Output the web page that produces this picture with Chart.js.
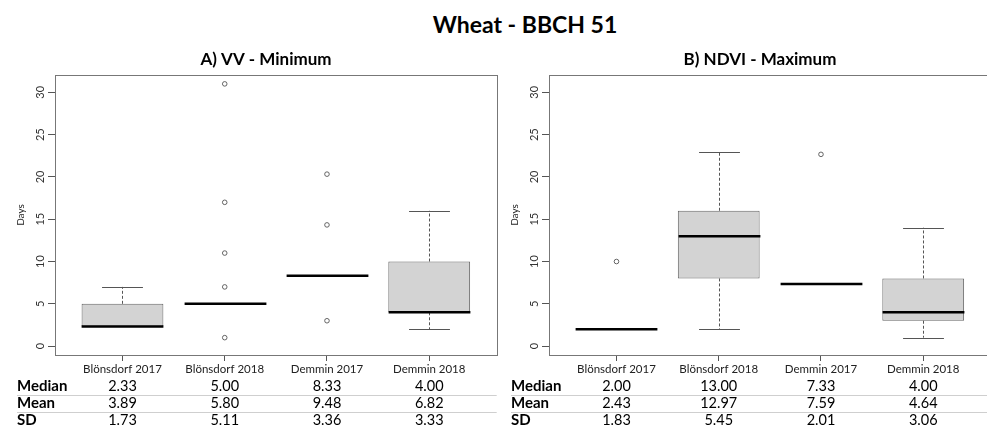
<!DOCTYPE html>
<html>
<head>
<meta charset="utf-8">
<script src="https://cdn.jsdelivr.net/npm/chart.js@4.4.0/dist/chart.umd.min.js"></script>
<style>
  html, body { margin: 0; padding: 0; background: #fff; }
  body { width: 987px; height: 426px; overflow: hidden; position: relative; }
  #mainTitle { position: absolute; left: 0; width: 1050px; top: 10px; text-align: center;
               font: bold 23px Lato, sans-serif; color: #000; }
  .panel { position: absolute; top: 0; width: 510px; height: 426px; }
</style>
</head>
<body>
<div id="mainTitle">Wheat - BBCH 51</div>
<div class="panel" style="left:0"><canvas id="vvChart" width="510" height="426"></canvas></div>
<div class="panel" style="left:494px"><canvas id="ndviChart" width="510" height="426"></canvas></div>
<script>
// ---- data ----
const categories = ['Blönsdorf 2017', 'Blönsdorf 2018', 'Demmin 2017', 'Demmin 2018'];
const yTicks = [0, 5, 10, 15, 20, 25, 30];
const statLabels = ['Median', 'Mean', 'SD'];

// A) VV - Minimum
const vvLow    = [2.33, 5, 8.33, 2];
const vvQ1     = [2.33, 5, 8.33, 4];
const vvMed    = [2.33, 5, 8.33, 4];
const vvQ3     = [5, 5, 8.33, 10];
const vvHigh   = [7, 5, 8.33, 16];
const vvOutliers = [[], [1, 7, 11, 17, 31], [3, 14.33, 20.33], []];
const vvStatMedian = [2.33, 5.00, 8.33, 4.00];
const vvStatMean   = [3.89, 5.80, 9.48, 6.82];
const vvStatSD     = [1.73, 5.11, 3.36, 3.33];

// B) NDVI - Maximum
const ndviLow  = [2, 2, 7.33, 1];
const ndviQ1   = [2, 8, 7.33, 3];
const ndviMed  = [2, 13, 7.33, 4];
const ndviQ3   = [2, 16, 7.33, 8];
const ndviHigh = [2, 23, 7.33, 14];
const ndviOutliers = [[10], [], [22.67], []];
const ndviStatMedian = [2.00, 13.00, 7.33, 4.00];
const ndviStatMean   = [2.43, 12.97, 7.59, 4.64];
const ndviStatSD     = [1.83, 5.45, 2.01, 3.06];

const FONT = 'Lato, sans-serif';

function makePanel(canvasId, subtitle, low, q1, med, q3, high, outliers, stats) {
    const boxes = categories.map((c, i) => ({ x: i + 1, y: [q1[i], q3[i]] }));
    const points = [];
    outliers.forEach((vals, i) => vals.forEach(v => points.push({ x: i + 1, y: v })));

    const boxplotExtras = {
        id: 'boxplotExtras',
        afterDatasetsDraw(chart) {
            const ctx = chart.ctx;
            const xs = chart.scales.x, ys = chart.scales.y;
            const bars = chart.getDatasetMeta(0).data;
            ctx.save();
            categories.forEach((c, i) => {
                const x = Math.round(xs.getPixelForValue(i + 1)) + 0.5;
                const half = bars[i].width / 2;
                ctx.strokeStyle = '#555';
                ctx.lineWidth = 1;
                [[q3[i], high[i]], [q1[i], low[i]]].forEach(([from, to]) => {
                    if (from === to) return;
                    ctx.setLineDash([3, 2]);
                    ctx.beginPath();
                    ctx.moveTo(x, ys.getPixelForValue(from));
                    ctx.lineTo(x, ys.getPixelForValue(to));
                    ctx.stroke();
                    ctx.setLineDash([]);
                    const yy = Math.round(ys.getPixelForValue(to)) + 0.5;
                    ctx.beginPath();
                    ctx.moveTo(x - half / 2, yy);
                    ctx.lineTo(x + half / 2, yy);
                    ctx.stroke();
                });
                // median
                ctx.strokeStyle = '#000';
                ctx.lineWidth = 2.5;
                const ym = ys.getPixelForValue(med[i]);
                ctx.beginPath();
                ctx.moveTo(x - half, ym);
                ctx.lineTo(x + half, ym);
                ctx.stroke();
            });
            ctx.restore();
        },
        afterDraw(chart) {
            const ctx = chart.ctx;
            const area = chart.chartArea;
            const xs = chart.scales.x, ys = chart.scales.y;
            ctx.save();
            // plot frame
            ctx.strokeStyle = '#777';
            ctx.lineWidth = 1;
            ctx.strokeRect(Math.round(area.left) + 0.5, Math.round(area.top) + 0.5,
                           Math.round(area.right - area.left), Math.round(area.bottom - area.top));
            // y tick labels, rotated like R
            ctx.fillStyle = '#333';
            ctx.font = '11px ' + FONT;
            ctx.textAlign = 'center';
            ctx.textBaseline = 'middle';
            yTicks.forEach(v => {
                ctx.save();
                ctx.translate(area.left - 15, ys.getPixelForValue(v));
                ctx.rotate(-Math.PI / 2);
                ctx.fillText(String(v), 0, 0);
                ctx.restore();
            });
            // axis title
            ctx.save();
            ctx.font = '10px ' + FONT;
            ctx.fillStyle = '#222';
            ctx.translate(21, (area.top + area.bottom) / 2);
            ctx.rotate(-Math.PI / 2);
            ctx.fillText('Days', 0, 0);
            ctx.restore();
            // panel title
            ctx.font = 'bold 17px ' + FONT;
            ctx.fillStyle = '#000';
            ctx.fillText(subtitle, 266, 60);
            // stats table
            const rowY = [386.5, 403.5, 420.5];
            const labelX = 17;
            ctx.strokeStyle = '#cfcfcf';
            [395, 412].forEach(y => {
                ctx.beginPath();
                ctx.moveTo(labelX, y + 0.5);
                ctx.lineTo(area.right, y + 0.5);
                ctx.stroke();
            });
            stats.forEach((row, r) => {
                ctx.font = 'bold 15px ' + FONT;
                ctx.fillStyle = '#000';
                ctx.textAlign = 'left';
                ctx.fillText(statLabels[r], labelX, rowY[r]);
                ctx.font = '14.5px ' + FONT;
                ctx.textAlign = 'center';
                row.forEach((v, i) => {
                    ctx.fillText(v.toFixed(2), xs.getPixelForValue(i + 1), rowY[r]);
                });
            });
            ctx.restore();
        }
    };

    return new Chart(document.getElementById(canvasId), {
        type: 'bar',
        data: {
            datasets: [{
                type: 'bar',
                data: boxes,
                backgroundColor: '#d3d3d3',
                borderColor: '#666',
                borderWidth: 1,
                borderSkipped: false,
                barPercentage: 0.8,
                categoryPercentage: 1
            }, {
                type: 'scatter',
                data: points,
                pointStyle: 'circle',
                radius: 2.3,
                borderColor: '#555',
                backgroundColor: 'rgba(0,0,0,0)',
                borderWidth: 0.9
            }]
        },
        options: {
            responsive: false,
            animation: false,
            devicePixelRatio: 1,
            layout: { padding: { top: 75, left: 0, right: 13.3, bottom: 0 } },
            plugins: { legend: { display: false }, tooltip: { enabled: false } },
            scales: {
                x: {
                    type: 'linear',
                    offset: false,
                    min: 0.34,
                    max: 4.66,
                    afterBuildTicks: s => { s.ticks = categories.map((c, i) => ({ value: i + 1 })); },
                    afterFit: s => { s.height = 71; },
                    ticks: {
                        callback: v => categories[Math.round(v) - 1],
                        font: { family: FONT, size: 11.5 },
                        color: '#222',
                        padding: 1,
                        maxRotation: 0,
                        autoSkip: false
                    },
                    grid: { display: true, offset: false, drawOnChartArea: false, drawTicks: true, tickLength: 6, color: '#555' },
                    border: { display: false }
                },
                y: {
                    min: -1.05,
                    max: 32.05,
                    afterBuildTicks: s => { s.ticks = yTicks.map(v => ({ value: v })); },
                    afterFit: s => { s.width = 55; },
                    ticks: { display: false },
                    grid: { display: true, drawOnChartArea: false, drawTicks: true, tickLength: 7, color: '#555' },
                    border: { display: false }
                }
            }
        },
        plugins: [boxplotExtras]
    });
}

makePanel('vvChart', 'A) VV - Minimum', vvLow, vvQ1, vvMed, vvQ3, vvHigh, vvOutliers,
          [vvStatMedian, vvStatMean, vvStatSD]);
makePanel('ndviChart', 'B) NDVI - Maximum', ndviLow, ndviQ1, ndviMed, ndviQ3, ndviHigh, ndviOutliers,
          [ndviStatMedian, ndviStatMean, ndviStatSD]);
</script>
</body>
</html>
